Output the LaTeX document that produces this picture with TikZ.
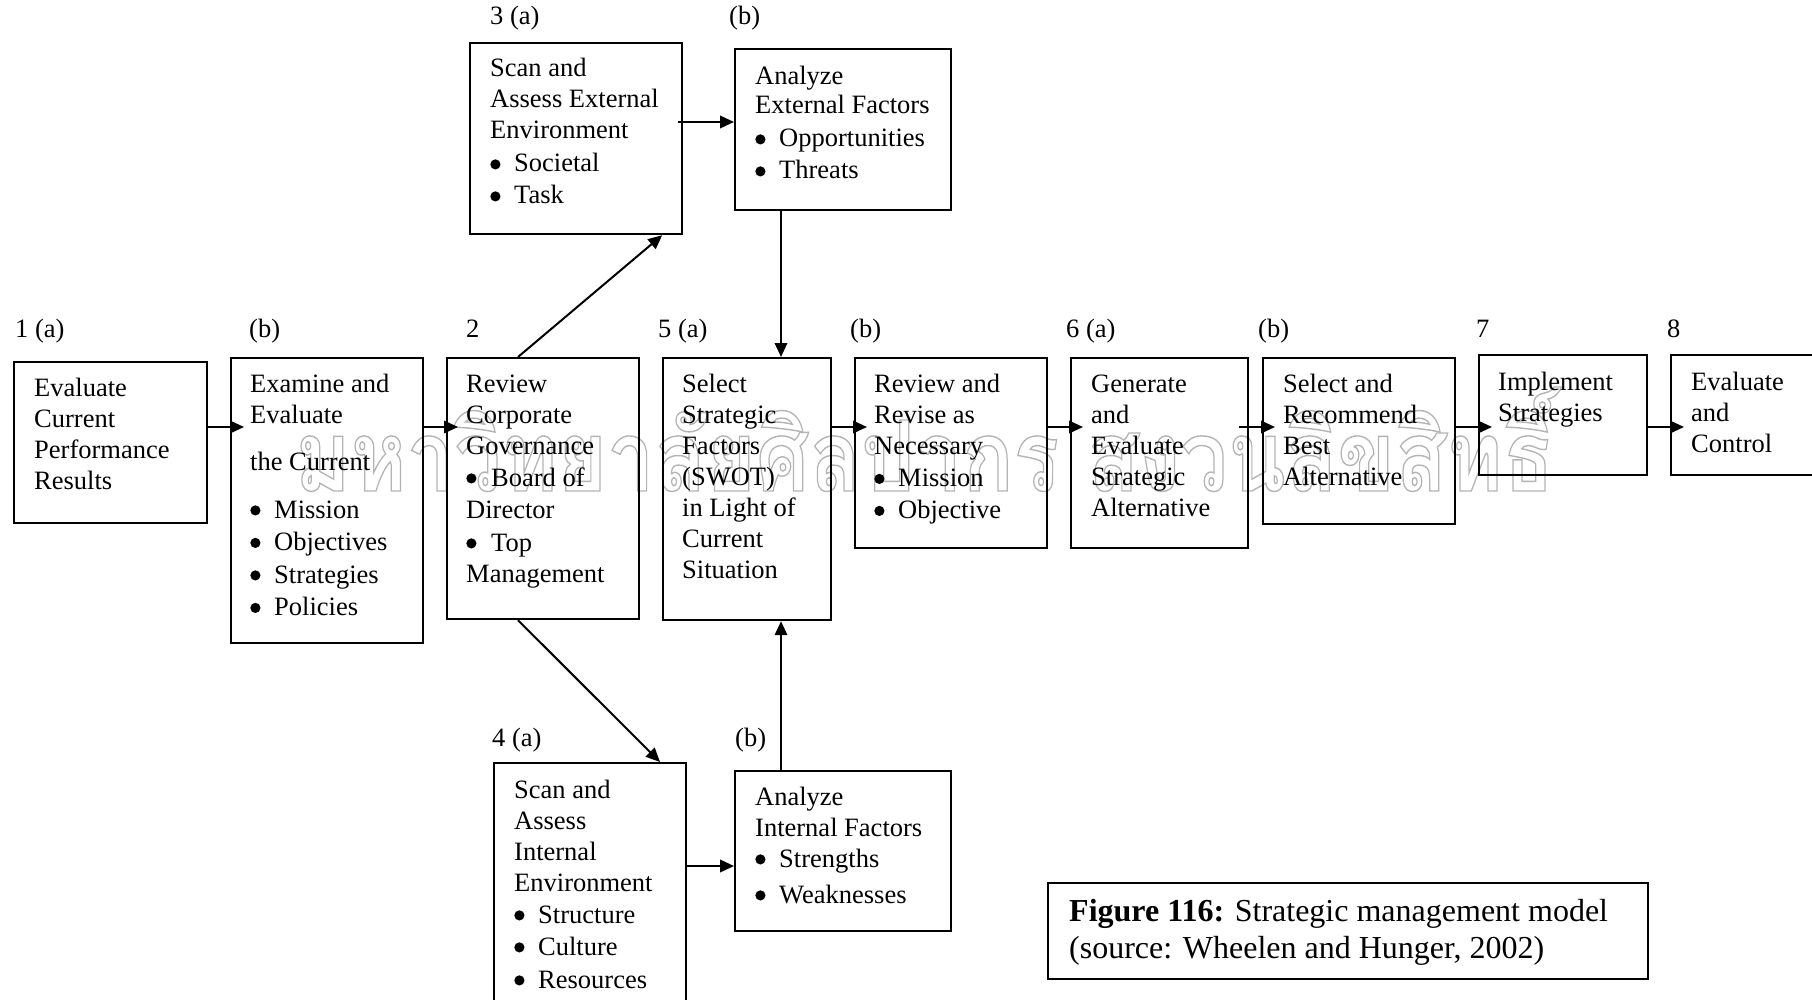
\documentclass[tikz,border=0pt]{standalone}
\usepackage{fontspec}
\setmainfont{Liberation Serif}
\newfontfamily\thaifont[Script=Thai]{Loma}
\usetikzlibrary{arrows.meta,calc}

\definecolor{wmgray}{RGB}{180,180,180}
\newcommand\dgbody{\fontsize{26.5pt}{31pt}\selectfont}
\newcommand\dgcap{\fontsize{32pt}{37pt}\selectfont}
% round list bullet, drawn as a filled dot
\newcommand\dgdot{\tikz[baseline=0pt]\fill (0pt,0pt) (5.2pt,7.6pt) circle (5.1pt);}
\newcommand\dgbul[1][24pt]{\makebox[#1][l]{\dgdot}}
\newcommand\dgtext[1]{\parbox[t]{420pt}{\raggedright\dgbody #1}}
% outlined (stroke-only) Thai line
\newcommand\wmtext{\resizebox{1259pt}{104pt}{\fontsize{90pt}{90pt}\thaifont\bfseries
  \special{pdf:literal direct 1 Tr 1.3 w 0.706 G}มหาวิทยาลัยศิลปากร สงวนลิขสิทธิ์\special{pdf:literal direct 0 Tr}}}

\begin{document}
\begin{tikzpicture}[x=1pt,y=-1pt,
  stepbox/.style 2 args={draw, line width=2.2pt, anchor=north west, inner sep=0pt,
    minimum width=#1pt, minimum height=#2pt},
  txt/.style={anchor=base west, inner sep=0pt},
  lbl/.style={anchor=base west, inner sep=0pt, font=\dgbody},
  arr/.style={line width=2pt, -{Triangle[length=14pt,width=12.5pt]}},
  wm/.style={anchor=base west, inner sep=0pt}]

\useasboundingbox (0,0) rectangle (1812,1000);
\fill[white] (0,0) rectangle (1812,1000);
\clip (0,0) rectangle (1812,1000);

% watermark line behind the chart
\node[wm, text=wmgray] (wmark) at (295,491) {\wmtext};

% boxes
\node[stepbox={193}{161}] (perf) at (13,361) {};
\node[stepbox={192}{285}] (exam) at (230,357) {};
\node[stepbox={192}{261}] (gov) at (446,357) {};
\node[stepbox={212}{191}] (extscan) at (469,42) {};
\node[stepbox={216}{161}] (extan) at (734,48) {};
\node[stepbox={168}{262}] (sel) at (662,357) {};
\node[stepbox={192}{190}] (rev) at (854,357) {};
\node[stepbox={177}{190}] (gen) at (1070,357) {};
\node[stepbox={192}{166}] (rec) at (1262,357) {};
\node[stepbox={168}{120}] (impl) at (1478,354) {};
\node[stepbox={250}{120}] (ctrl) at (1670,354) {};
\node[stepbox={192}{300}] (intscan) at (493,762) {};
\node[stepbox={216}{160}] (intan) at (734,770) {};
\node[stepbox={600}{96}] (cap) at (1047,882) {};

% box texts
\node[txt] (perfT) at (34,396) {\dgtext{Evaluate\\Current\\Performance\\Results}};
\node[txt] (examT) at (250,392) {\dgtext{Examine and\\Evaluate\\[16pt]the Current\\[17pt]\dgbul Mission\\[1.5pt]\dgbul Objectives\\[1.5pt]\dgbul Strategies\\[1.5pt]\dgbul Policies}};
\node[txt] (govT) at (466,392) {\dgtext{Review\\Corporate\\Governance\\[1pt]\dgbul[25pt]Board of\\[1pt]Director\\[2pt]\dgbul[25pt]Top\\Management}};
\node[txt] (extscanT) at (490,77) {\dgtext{Scan and\\Assess External\\Environment\\[2pt]\dgbul Societal\\[1pt]\dgbul Task}};
\node[txt] (extanT) at (755,85) {\dgtext{Analyze\\[-2pt]External Factors\\[2pt]\dgbul Opportunities\\[1pt]\dgbul Threats}};
\node[txt] (selT) at (682,392) {\dgtext{Select\\Strategic\\Factors\\(SWOT)\\in Light of\\Current\\Situation}};
\node[txt] (revT) at (874,392) {\dgtext{Review and\\Revise as\\Necessary\\[1.5pt]\dgbul Mission\\[1pt]\dgbul Objective}};
\node[txt] (genT) at (1091,392) {\dgtext{Generate\\and\\Evaluate\\Strategic\\Alternative}};
\node[txt] (recT) at (1283,392) {\dgtext{Select and\\Recommend\\Best\\Alternative}};
\node[txt] (implT) at (1498,390) {\dgtext{Implement\\Strategies}};
\node[txt] (ctrlT) at (1691,390) {\dgtext{Evaluate\\and\\Control}};
\node[txt] (intscanT) at (514,798) {\dgtext{Scan and\\Assess\\Internal\\Environment\\[1pt]\dgbul Structure\\[1pt]\dgbul Culture\\[2pt]\dgbul Resources}};
\node[txt] (intanT) at (755,805) {\dgtext{Analyze\\Internal Factors\\\dgbul Strengths\\[5pt]\dgbul Weaknesses}};
\node[txt] (capT) at (1069,921) {\parbox[t]{600pt}{\raggedright\dgcap\textbf{Figure 116:} Strategic management model\\(source: Wheelen and Hunger, 2002)}};

% step labels
\node[lbl] (l1a) at (15,337) {1 (a)};
\node[lbl] (l1b) at (249,337) {(b)};
\node[lbl] (l2) at (466,337) {2};
\node[lbl] (l5a) at (658,337) {5 (a)};
\node[lbl] (l5b) at (850,337) {(b)};
\node[lbl] (l6a) at (1066,337) {6 (a)};
\node[lbl] (l6b) at (1258,337) {(b)};
\node[lbl] (l7) at (1476,337) {7};
\node[lbl] (l8) at (1667,337) {8};
\node[lbl] (l3a) at (490,25) {3 (a)};
\node[lbl] (l3b) at (729,25) {(b)};
\node[lbl] (l4a) at (492,746) {4 (a)};
\node[lbl] (l4b) at (735,746) {(b)};

% connectors
\coordinate (row) at (0,427);
\coordinate (vx) at (781,0);
\draw[arr] (perf.east |- row) -- ([xshift=14pt]exam.west |- row);
\draw[arr] (exam.east |- row) -- ([xshift=12pt]gov.west |- row);
\draw[arr] (sel.east |- row) -- ([xshift=13pt]rev.west |- row);
\draw[arr] (rev.east |- row) -- ([xshift=13pt]gen.west |- row);
\draw[arr] ([xshift=-10pt]gen.east |- row) -- ([xshift=13pt]rec.west |- row);
\draw[arr] (rec.east |- row) -- ([xshift=14pt]impl.west |- row);
\draw[arr] (impl.east |- row) -- ([xshift=14pt]ctrl.west |- row);

\draw[arr] ($(gov.north west)+(72,0)$) -- ($(extscan.south east)+(-21,0)$);
\draw[arr] ($(gov.south west)+(72,0)$) -- ($(intscan.north west)+(167,0)$);
\draw[arr] ([xshift=-5pt]extscan.east |- 0,122) -- (extan.west |- 0,122);
\draw[arr] (intscan.east |- 0,866) -- (intan.west |- 0,866);
\draw[arr] (extan.south -| vx) -- (sel.north -| vx);
\draw[arr] (intan.north -| vx) -- (sel.south -| vx);

\end{tikzpicture}
\end{document}
